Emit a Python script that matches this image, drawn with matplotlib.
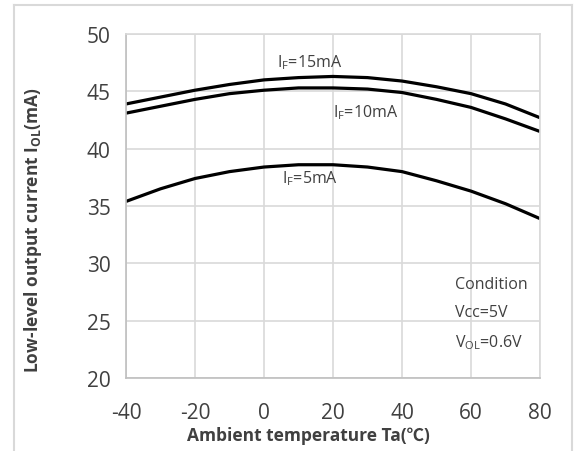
import numpy as np
import matplotlib
matplotlib.use('Agg')
import matplotlib.pyplot as plt
from matplotlib.lines import Line2D

plt.rcParams['font.family'] = ['Open Sans', 'Noto Sans CJK JP', 'DejaVu Sans']
plt.rcParams['mathtext.default'] = 'regular'
plt.rcParams['axes.unicode_minus'] = False

temp = [-40, -30, -20, -10, 0, 10, 20, 30, 40, 50, 60, 70, 80]
iol_15 = [43.9, 44.5, 45.1, 45.6, 46.0, 46.2, 46.3, 46.2, 45.9, 45.4, 44.8, 43.9, 42.7]
iol_10 = [43.1, 43.7, 44.3, 44.8, 45.1, 45.3, 45.3, 45.2, 44.9, 44.3, 43.6, 42.6, 41.5]
iol_5 = [35.4, 36.5, 37.4, 38.0, 38.4, 38.6, 38.6, 38.4, 38.0, 37.2, 36.3, 35.2, 33.9]

xticks = [-40, -20, 0, 20, 40, 60, 80]
yticks = [20, 25, 30, 35, 40, 45, 50]

txt = '#404040'

fig = plt.figure(figsize=(5.76, 4.52), dpi=100)
ax = fig.add_axes([0.21875, 0.1615, 0.71875, 0.761])

for y in (iol_15, iol_10, iol_5):
    ax.plot(temp, y, color='black', lw=2.3, solid_capstyle='butt')

ax.set_xlim(-40, 80)
ax.set_ylim(20, 50)
ax.set_xticks(xticks)
ax.set_yticks(yticks)
ax.grid(True, color='#d9d9d9', lw=1.2)
ax.set_axisbelow(True)
for s in ('top', 'right'):
    ax.spines[s].set_color('#d9d9d9')
    ax.spines[s].set_linewidth(1.2)
for s in ('left', 'bottom'):
    ax.spines[s].set_color('#bfbfbf')
    ax.spines[s].set_linewidth(1.2)
ax.tick_params(axis='x', length=0, pad=17, labelsize=15, labelcolor=txt)
ax.tick_params(axis='y', length=0, pad=11, labelsize=15, labelcolor=txt)

ax.set_xlabel('Ambient temperature Ta(℃)', fontsize=12.5, fontweight='bold',
              color=txt)
ax.xaxis.set_label_coords(0.44, -0.14)
ax.set_ylabel('Low-level output current I$_{OL}$(mA)', fontsize=12.5,
              fontweight='bold', color=txt)
ax.yaxis.set_label_coords(-0.198, 0.433)

ax.text(3.8, 47.55, 'I$_F$=15mA', fontsize=11.5, color=txt, va='center')
ax.text(20.0, 43.2, 'I$_F$=10mA', fontsize=11.5, color=txt, va='center')
ax.text(5.2, 37.5, 'I$_F$=5mA', fontsize=11.5, color=txt, va='center')

ax.text(55.4, 28.2, 'Condition', fontsize=11.5, color=txt, va='center')
ax.text(55.4, 25.75, 'Vcc=5V', fontsize=11.5, color=txt, va='center')
ax.text(55.4, 23.2, 'V$_{OL}$=0.6V', fontsize=11.5, color=txt, va='center')

# outer frame
fc = '#d9d9d9'
x0, x1, yt = 13.5 / 576, 572 / 576, 1 - 5.5 / 452
fig.add_artist(Line2D([x0, x0], [0, yt], color=fc, lw=1.5))
fig.add_artist(Line2D([x0, x1], [yt, yt], color=fc, lw=1.5))
fig.add_artist(Line2D([x1, x1], [0, yt], color=fc, lw=1.5))

fig.savefig('out.png', dpi=100)
